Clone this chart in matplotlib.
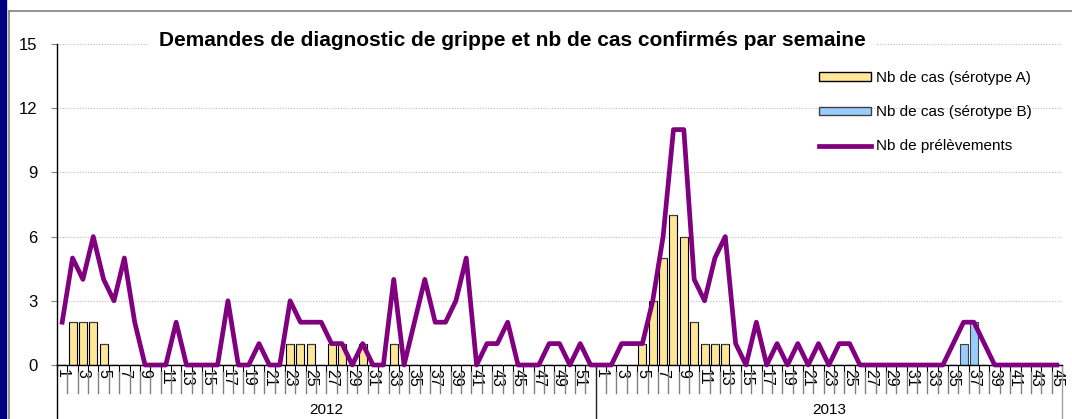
import numpy as np
import matplotlib.pyplot as plt
from matplotlib.lines import Line2D
from matplotlib.patches import Rectangle
from matplotlib.transforms import blended_transform_factory

plt.rcParams['font.family'] = ['Liberation Sans', 'DejaVu Sans']

# weekly data, 2012 (weeks 1-52) then 2013 (weeks 1-45)
weeks_2012 = list(range(1, 53))
weeks_2013 = list(range(1, 46))

prelev_2012 = [2, 5, 4, 6, 4, 3, 5, 2, 0, 0,
               0, 2, 0, 0, 0, 0, 3, 0, 0, 1,
               0, 0, 3, 2, 2, 2, 1, 1, 0, 1,
               0, 0, 4, 0, 2, 4, 2, 2, 3, 5,
               0, 1, 1, 2, 0, 0, 0, 1, 1, 0,
               1, 0]
prelev_2013 = [0, 0, 1, 1, 1, 3, 6, 11, 11, 4,
               3, 5, 6, 1, 0, 2, 0, 1, 0, 1,
               0, 1, 0, 1, 1, 0, 0, 0, 0, 0,
               0, 0, 0, 0, 1, 2, 2, 1, 0, 0,
               0, 0, 0, 0, 0]

sero_a_2012 = [0, 2, 2, 2, 1, 0, 0, 0, 0, 0,
               0, 0, 0, 0, 0, 0, 0, 0, 0, 0,
               0, 0, 1, 1, 1, 0, 1, 1, 0, 1,
               0, 0, 1, 0, 0, 0, 0, 0, 0, 0,
               0, 0, 0, 0, 0, 0, 0, 0, 0, 0,
               0, 0]
sero_a_2013 = [0, 0, 0, 0, 1, 3, 5, 7, 6, 2,
               1, 1, 1, 0, 0, 0, 0, 0, 0, 0,
               0, 0, 0, 0, 0, 0, 0, 0, 0, 0,
               0, 0, 0, 0, 0, 0, 0, 0, 0, 0,
               0, 0, 0, 0, 0]
sero_b_2013 = [0, 0, 0, 0, 0, 0, 0, 0, 0, 0,
               0, 0, 0, 0, 0, 0, 0, 0, 0, 0,
               0, 0, 0, 0, 0, 0, 0, 0, 0, 0,
               0, 0, 0, 0, 0, 1, 2, 0, 0, 0,
               0, 0, 0, 0, 0]

years = ['2012', '2013']
title = 'Demandes de diagnostic de grippe et nb de cas confirmés par semaine'

W, H = 1072, 419
fig = plt.figure(figsize=(W / 100, H / 100), dpi=100)
ax = fig.add_axes([57 / W, 54 / H, (1062 - 57) / W, (365 - 44) / H])
axh = 365 - 44  # axes height in px

n12 = len(weeks_2012)
x = np.arange(n12 + len(weeks_2013))
a = np.array(sero_a_2012 + sero_a_2013)
b = np.array([0] * n12 + sero_b_2013)
p = np.array(prelev_2012 + prelev_2013)

ax.bar(x, a, width=0.77, color='#FFE699', edgecolor='black', lw=0.8, zorder=2)
ax.bar(x, b, bottom=a, width=0.77, color='#99CCFF', edgecolor='#404040', lw=0.8, zorder=2)
ax.plot(x, p, color='#800080', lw=3.4, zorder=3, clip_on=False)

ax.set_xlim(-0.5, len(x) - 0.5)
ax.set_ylim(0, 15)
ax.set_yticks(range(0, 16, 3))
ax.yaxis.grid(True, linestyle=(0, (1, 1.5)), color='#BBBBBB', lw=0.8)
ax.set_axisbelow(True)
for s in ['top', 'right']:
    ax.spines[s].set_visible(False)
ax.spines['left'].set_linewidth(1)
ax.spines['bottom'].set_linewidth(1)
ax.tick_params(axis='y', length=4, color='#808080', labelsize=12, pad=10)

# odd week labels
pos = [i for i in range(n12) if weeks_2012[i] % 2 == 1] + \
      [n12 + i for i in range(len(weeks_2013)) if weeks_2013[i] % 2 == 1]
labs = [str(weeks_2012[i]) for i in range(n12) if weeks_2012[i] % 2 == 1] + \
       [str(weeks_2013[i]) for i in range(len(weeks_2013)) if weeks_2013[i] % 2 == 1]
ax.set_xticks(pos)
ax.set_xticklabels(labs, rotation=-90, ha='center', va='top', fontsize=11.5)
ax.tick_params(axis='x', which='major', length=0, pad=3)
ax.set_xticks(np.arange(-0.5, len(x)), minor=True)
ax.tick_params(axis='x', which='minor', length=7, width=0.8, color='black')

tr = blended_transform_factory(ax.transData, ax.transAxes)
for k in np.arange(0.5, len(x) - 1):
    if k == n12 - 0.5:
        continue
    ax.plot([k, k], [-7 / axh, -28 / axh], color='#808080', lw=1, transform=tr, clip_on=False)
ax.plot([-0.5, -0.5], [0, -60 / axh], color='black', lw=1, transform=tr, clip_on=False)
ax.plot([n12 - 0.5, n12 - 0.5], [0, -60 / axh], color='#202020', lw=1, transform=tr, clip_on=False)
ax.plot([len(x) - 0.5] * 2, [0, -60 / axh], color='#A0A0A0', lw=1, transform=tr, clip_on=False)

ax.text((n12 - 1) / 2, -45 / axh, years[0], transform=tr, ha='center', va='center', fontsize=11)
ax.text((n12 + len(x) - 1) / 2, -45 / axh, years[1], transform=tr, ha='center', va='center', fontsize=11)

fig.text(512 / W, 1 - 40 / H, title, ha='center', va='center', fontsize=15,
         fontweight='bold', bbox=dict(facecolor='white', edgecolor='none', pad=8))

handles = [Rectangle((0, 0), 1, 1, facecolor='#FFE699', edgecolor='black', lw=1),
           Rectangle((0, 0), 1, 1, facecolor='#99CCFF', edgecolor='#404040', lw=1),
           Line2D([], [], color='#800080', lw=3.4)]
ax.legend(handles, ['Nb de cas (sérotype A)', 'Nb de cas (sérotype B)', 'Nb de prélèvements'],
          loc='upper left', bbox_to_anchor=(819 / W, 1 - 71 / H), bbox_transform=fig.transFigure,
          frameon=False, fontsize=11, handlelength=3.4, handleheight=0.45,
          labelspacing=1.32, handletextpad=0.35, borderpad=0, borderaxespad=0)

# slide frame
fig.add_artist(Rectangle((0, 0), 6 / W, 1, transform=fig.transFigure, color='#000080'))
fig.add_artist(Line2D([8.5 / W, 8.5 / W], [0, 1 - 11 / H], color='#808080', lw=1.2))
fig.add_artist(Line2D([8.5 / W, 1], [1 - 11 / H, 1 - 11 / H], color='#808080', lw=1.2))

fig.savefig('out.png', dpi=100)
